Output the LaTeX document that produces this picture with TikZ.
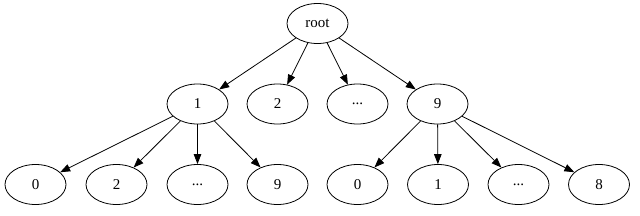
\documentclass[tikz,border=0pt]{standalone}
\usepackage{fontspec}
\setmainfont{Liberation Serif}
\usetikzlibrary{arrows.meta,shapes.geometric}

\begin{document}
\begin{tikzpicture}[x=1pt,y=-1pt,>={Triangle[length=10pt,width=7.5pt]},
  key/.style={ellipse,draw,line width=0.8pt,minimum width=61pt,minimum height=40pt,
              inner sep=0pt,font=\fontsize{15}{17}\selectfont},
  link/.style={->,line width=0.8pt}]
\useasboundingbox (0,0) rectangle (640,215);
% root and first digit
\node[key] (root)  at (317.5,23.5) {root};
\node[key] (d1)    at (197.5,104)  {1};
\node[key] (d2)    at (277.5,104)  {2};
\node[key] (ddots) at (357.5,104)  {...};
\node[key] (d9)    at (437.5,104)  {9};
% second digit
\node[key] (d1x0)    at (35.5,184.5)  {0};
\node[key] (d1x2)    at (116.5,184.5) {2};
\node[key] (d1xdots) at (197.5,184.5) {...};
\node[key] (d1x9)    at (277.5,184.5) {9};
\node[key] (d9x0)    at (357.5,184.5) {0};
\node[key] (d9x1)    at (438,184.5)   {1};
\node[key] (d9xdots) at (518.5,184.5) {...};
\node[key] (d9x8)    at (599,184.5)   {8};
\foreach \a/\b in {root/d1,root/d2,root/ddots,root/d9,
                   d1/d1x0,d1/d1x2,d1/d1xdots,d1/d1x9,
                   d9/d9x0,d9/d9x1,d9/d9xdots,d9/d9x8}
  \draw[link] (\a) -- (\b);
\end{tikzpicture}
\end{document}
